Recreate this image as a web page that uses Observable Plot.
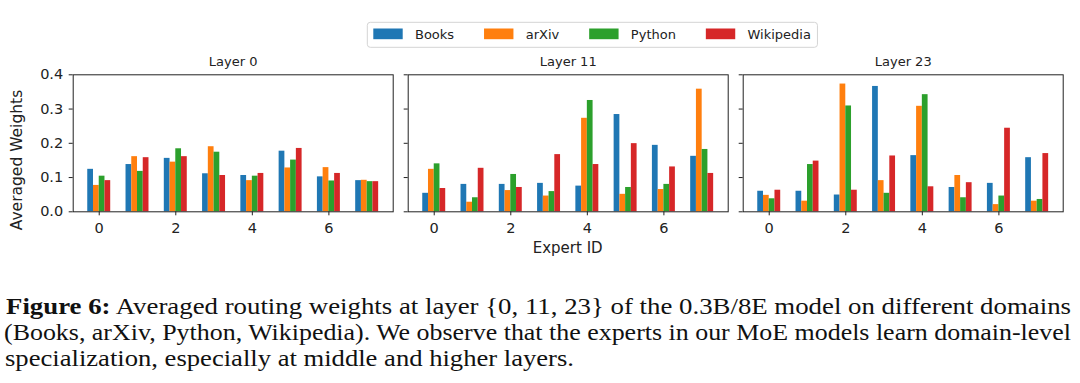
<!DOCTYPE html>
<html><head><meta charset="utf-8">
<script src="https://cdn.jsdelivr.net/npm/d3@7"></script>
<script src="https://cdn.jsdelivr.net/npm/@observablehq/plot@0.6"></script>
<style>
body{margin:0;background:#fff}
#wrap{position:relative;width:1080px;height:383px;overflow:hidden;background:#fff}
#wrap > svg{position:absolute;left:0;top:0}
.cap text{font-family:'Liberation Serif', serif}
</style>
</head><body><div id="wrap"></div>
<script>
// ---- data ----
const experts = [0, 1, 2, 3, 4, 5, 6, 7];
const domains = ["Books", "arXiv", "Python", "Wikipedia"];
const domainColors = ["#1f77b4", "#ff7f0e", "#2ca02c", "#d62728"];
const layers = ["Layer 0", "Layer 11", "Layer 23"];
const xTicks = [0, 2, 4, 6];
const yTicks = [0, 0.1, 0.2, 0.3, 0.4];

const layer0Books     = [0.124, 0.138, 0.156, 0.111, 0.106, 0.177, 0.102, 0.091];
const layer0Arxiv     = [0.077, 0.161, 0.145, 0.190, 0.091, 0.128, 0.129, 0.092];
const layer0Python    = [0.104, 0.118, 0.184, 0.174, 0.104, 0.151, 0.090, 0.088];
const layer0Wikipedia = [0.091, 0.158, 0.161, 0.106, 0.112, 0.185, 0.112, 0.088];

const layer11Books     = [0.054, 0.080, 0.080, 0.083, 0.075, 0.284, 0.194, 0.162];
const layer11Arxiv     = [0.124, 0.028, 0.062, 0.046, 0.273, 0.051, 0.065, 0.358];
const layer11Python    = [0.140, 0.041, 0.109, 0.059, 0.325, 0.071, 0.080, 0.182];
const layer11Wikipedia = [0.068, 0.127, 0.071, 0.167, 0.138, 0.199, 0.131, 0.112];

const layer23Books     = [0.060, 0.060, 0.049, 0.366, 0.164, 0.071, 0.083, 0.158];
const layer23Arxiv     = [0.048, 0.031, 0.373, 0.091, 0.308, 0.106, 0.021, 0.031];
const layer23Python    = [0.038, 0.138, 0.309, 0.054, 0.342, 0.041, 0.046, 0.036];
const layer23Wikipedia = [0.063, 0.148, 0.063, 0.163, 0.073, 0.085, 0.244, 0.170];

const seriesByLayer = [
  [layer0Books, layer0Arxiv, layer0Python, layer0Wikipedia],
  [layer11Books, layer11Arxiv, layer11Python, layer11Wikipedia],
  [layer23Books, layer23Arxiv, layer23Python, layer23Wikipedia]
];

const yLabel = "Averaged Weights";
const xLabel = "Expert ID";
const captionBold = "Figure 6:";
const captionLine1 = " Averaged routing weights at layer {0, 11, 23} of the 0.3B/8E model on different domains";
const captionLine2 = "(Books, arXiv, Python, Wikipedia). We observe that the experts in our MoE models learn domain-level";
const captionLine3 = "specialization, especially at middle and higher layers.";

// ---- layout ----
const W = 1080, H = 383, PH = 260;
const panelLeft = [72.7, 407.7, 742.7];
const panelWidth = 320;
const barW = 0.15;
const wrap = document.getElementById("wrap");

layers.forEach((layer, li) => {
  const rows = [];
  domains.forEach((d, di) => {
    seriesByLayer[li][di].forEach((v, ei) => {
      const c = experts[ei] + (di - 1.5) * barW;
      rows.push({expert: experts[ei], domain: d, value: v, x1: c - barW / 2, x2: c + barW / 2});
    });
  });
  const svg = Plot.plot({
    width: W, height: PH,
    marginLeft: panelLeft[li],
    marginRight: W - panelLeft[li] - panelWidth,
    marginTop: 74.3, marginBottom: PH - 211.3,
    style: {background: "transparent", fontFamily: "DejaVu Sans", color: "#222"},
    x: {domain: [-0.68, 7.68]},
    y: {domain: [0, 0.4]},
    color: {domain: domains, range: domainColors},
    marks: [
      Plot.rectY(rows, {x1: "x1", x2: "x2", y: "value", fill: "domain", inset: 0}),
      Plot.frame({stroke: "#222", strokeWidth: 1}),
      Plot.axisX({ticks: xTicks, tickSize: 4, tickPadding: 7, fontSize: 14.5, label: null, stroke: "#222"}),
      Plot.axisY({ticks: yTicks, tickSize: 4, tickPadding: 6, fontSize: 14.5, label: null, stroke: "#222",
        tickFormat: li === 0 ? d3.format(".1f") : () => ""}),
      Plot.text([layer], {frameAnchor: "top", dy: -13, fontSize: 13, fill: "#222", lineAnchor: "middle"})
    ]
  });
  wrap.appendChild(svg);
});

// overlay: legend, axis labels, caption
const ov = d3.select(wrap).append("svg").attr("width", W).attr("height", H)
  .style("font-family", "DejaVu Sans");

// y label
ov.append("text").attr("transform", "translate(17,160) rotate(-90)")
  .attr("text-anchor", "middle").attr("dominant-baseline", "central")
  .attr("font-size", 15.5).attr("fill", "#222").text(yLabel);
// x label
ov.append("text").attr("x", panelLeft[1] + panelWidth / 2).attr("y", 253)
  .attr("text-anchor", "middle").attr("font-size", 15).attr("fill", "#222").text(xLabel);

// legend
const lg = ov.append("g");
const box = lg.append("rect").attr("x", 367.3).attr("y", 22.3).attr("height", 25).attr("rx", 3)
  .attr("fill", "#fff").attr("stroke", "#d4d4d4").attr("stroke-width", 1);
let lx = 373.3;
domains.forEach((d, i) => {
  lg.append("rect").attr("x", lx).attr("y", 28.5).attr("width", 29.4).attr("height", 10.7).attr("fill", domainColors[i]);
  const t = lg.append("text").attr("x", lx + 41.7).attr("y", 34).attr("dominant-baseline", "central")
    .attr("font-size", 13).attr("fill", "#222").text(d);
  const tw = t.node().getComputedTextLength();
  lx = lx + 41.7 + tw + (i < domains.length - 1 ? 29.9 : 6.5);
});
box.attr("width", lx - 367.3);

// caption
const cap = ov.append("g").attr("class", "cap").attr("font-size", 23).attr("fill", "#111");
const c1 = cap.append("text").attr("x", 6).attr("y", 313.5).attr("textLength", 1065).attr("lengthAdjust", "spacingAndGlyphs");
c1.append("tspan").attr("font-weight", "bold").text(captionBold);
c1.append("tspan").text(captionLine1);
cap.append("text").attr("x", 4).attr("y", 339.5).attr("textLength", 1067).attr("lengthAdjust", "spacingAndGlyphs").text(captionLine2);
cap.append("text").attr("x", 5).attr("y", 365.5).attr("textLength", 569).attr("lengthAdjust", "spacingAndGlyphs").text(captionLine3);
</script></body></html>
